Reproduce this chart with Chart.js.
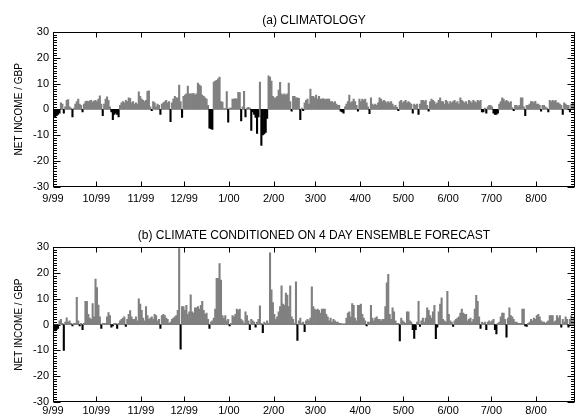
<!DOCTYPE html>
<html>
<head>
<meta charset="utf-8">
<script src="https://cdn.jsdelivr.net/npm/chart.js@4.4.1/dist/chart.umd.min.js"></script>
<style>
  html, body { margin: 0; padding: 0; background: #fff; }
  #wrap { position: relative; width: 578px; height: 418px; }
  canvas { position: absolute; left: 0; }
</style>
</head>
<body>
<div id="wrap">
  <canvas id="chartA" width="578" height="209" style="top:0"></canvas>
  <canvas id="chartB" width="578" height="209" style="top:209px"></canvas>
</div>
<script>
// day offsets (from 1 Sep 1999) where each month starts, and their labels
const monthDays = [0, 30, 61, 91, 122, 153, 182, 213, 243, 274, 304, 335];
const monthLabels = ["9/99", "10/99", "11/99", "12/99", "1/00", "2/00", "3/00", "4/00", "5/00", "6/00", "7/00", "8/00"];
const yTicks = [-30, -20, -10, 0, 10, 20, 30];

// (a) climatology - daily net income, GBP
const climatology = [
  -2.5, -3, -2.5, -2, -1.5, 2.5, 2, -1.5, 1, 3.5,
  3.8, 1, 0.5, -3, 0.5, 2, 3, 4, 2, 1.5,
  -1, 2, 3, 3.2, 3, 3.3, 3.5, 2.8, 3.2, 3.5,
  3, 4, 5.2, 2, -2.5, 2, 4, 4.8, 3.5, 1,
  -1, -4, -2, -1.5, -2, -3, 1.5, 2.5, 3, 2.5,
  3.5, 3, 4.5, 4.3, 2.5, 3, 2, 2.5, 2, 6.8,
  5, 4, 3.5, 3, 3.5, 7, 7.2, 1, -0.5, 3,
  2.5, 1, 2, 1.5, -2, 2, 2.5, 3, 3.5, 2.5,
  3, -4.8, 2.5, 4, 5, 4.5, 4.5, 9.4, 3, -3.2,
  5, 5.5, 6, 9, 6, 6, 6, 6.2, 5.5, 6,
  10.2, 9.5, 9, 5.5, 5, 4.5, 4, 1.5, -7.3, -7.5,
  -7.8, 10.6, 11, 11.3, 11.8, 12.5, 3, 2.8, 0.3, 0.3,
  6.9, -5, 0.5, 0.5, 4, 4, 4.2, 4, 6.6, 6.5,
  -4.5, 1, 7, -3, 0.5, 0.8, 0.5, -8.2, -1, -2,
  -3.2, -9.4, -3, 10.6, -14, -10, -9.6, -9, -3.5, 13,
  12.5, 11, 5, 4.5, 4.5, 5, 7.5, 10.5, 6, 5.5,
  6, 5.5, 6, 10.2, 3, -0.7, 5, 5, 4.5, 4.5,
  4.3, -4, 0.5, -0.5, 2.5, 3.5, 4, 2, 7.9, 5,
  5, 4.5, 5.5, 4, 5, 4, 4, 4.2, 3.8, 4,
  4, 4, 3, 3, 2.5, 3, 2, 1.5, 1.5, -0.7,
  -1, -1.5, 1, 2, 3, 5.5, 2.5, 3, 4, 3,
  1.5, -0.7, 4, 3, 4, 3.5, 4, 2.5, 1, -1.7,
  4.5, 2, 1.5, 2, 1.5, 2.5, 4.5, 4, 3, 3.5,
  3, 2.5, 3, 2.5, 3, 2, 1, 1.5, 0.8, -0.5,
  3, 3.5, 2.5, 3, 3.5, 2.5, 3, 2.5, 2, -1.5,
  2, 1.5, 2, -2, 2, 3.5, 3.5, 3, 3.5, 1.5,
  -0.7, 3, 4, 3.5, 3, 2, 2.5, 3.5, 4.5, 3,
  3, 2, 3.5, 3, 2, 3, 2.5, 3, 3.5, 2.5,
  3, 2, 4.5, 3.5, 3, 2.5, 3, 2, 3.5, 3,
  2.5, 3.5, 3, 2.5, 3.5, 3, 3.5, -1, -1, 0.5,
  -1.5, 1, 1.5, 1.5, 1, -1.5, -2, -2, -1.5, 2,
  3, 4.5, 4, 3, 3.5, 3, 2.5, 3, 0.7, -0.5,
  1.5, 1.5, 1, 1.5, 4.5, 4.5, 1, -2.5, 1.5, 1.5,
  2, 3, 3, 2.5, 3.1, 2, 2, 1.5, -0.7, 1.5,
  1.5, 1, 0.5, -1, 3.5, 3, 3.5, 3, 3.5, 2.5,
  2.5, 2, 1.5, -2, 2.5, 2, 1.5, 1.5, -1, 2,
  2.5, 2.5
];

// (b) climate conditioned on 4 day ensemble forecast
const conditioned = [
  -2, -2.5, -2, -1.5, 1.5, 2, 0.5, -10, 1, 2.6,
  1, 1.5, 0.5, -0.5, 0.5, 0.5, 10.6, 1.5, -0.5, 0.5,
  -2, 0.5, 9, 9, 4, 2.5, 2, 8.2, 3, 17.7,
  14.4, 7.6, 3, -1.5, 0.5, 0.5, 0.5, 3, 4.7, 3.5,
  -1, -0.5, 0.5, 0.5, -1.5, 0.5, 1.5, 2, 2.5, 3,
  -0.7, 2, 4, 5.4, 3, 2, 2, 3, 1.5, 10,
  8, 5.5, 2.5, 1.5, 7, 3.5, 2, 2.5, 3, 2,
  4, 3.5, 1.5, 2, -1.5, 3.5, 4, 3.5, 2.5, 2,
  0.5, 1, 2, 2.5, 3, 3.5, 5.5, 29.5, -9.5, 7,
  7, 5.5, 7.5, 4, 5, 11.6, 5, 4.5, 6.5, 6.5,
  7, 6, 7.5, 9, 5.5, 4, 4.5, 2, -1.5, 1,
  1.5, 2.5, 6, 18, 18, 23.7, 17.3, 3.5, 2.5, 3.5,
  1.5, 2, -0.5, 0.5, 3.5, 3, 4, 6, 5.5, 6,
  2, 1.5, 0.5, 5, 3.5, 1.5, -2, 2, 1.5, 1,
  -1, 1, 2, 7.25, 0.5, -3.1, 1, 0.5, 1.5, 0.5,
  27.9, 13.5, 8.5, 4, 2, 3, 5, 7, 15, 8,
  7.5, 12.2, 11.5, 7, 15, 3, 2, 0.5, 16.6, -6.1,
  1.5, 2.5, 0.5, 1, -2.75, 1.5, 2, 1.5, 2.5, 14.7,
  7, 6, 5.5, 6, 5.5, 4.5, 6, 6, 6, 4,
  3, 1.5, 2.5, 1, 2, 1.5, 1, 1, 0.5, 0.5,
  0.3, 0.3, 0.3, 2.5, 4.5, 5, 3, 8.2, 7.5, 2.5,
  1.5, 7.5, 7.5, 8, 4, 2.5, 1.5, -0.5, 1, 1,
  7.5, 2.5, 1.5, 2.5, 3, 2, 2, 1.5, 2, 2,
  7, 16.2, 19.5, 4, 2, 6.5, 5, 1.5, 0.5, 0.5,
  -6.3, 2.5, 1.5, 1, 0.5, 5, 5, 1.5, 1, -2,
  -5.4, -2, 1, 9, -0.7, 1.5, 2.5, 1, 2.5, 6.5,
  5.5, 3.5, 2.5, 5, 7.5, -5.5, -1, 5, 8, 10.4,
  2, 1.5, 1, 12.9, 4, 1.5, 1, -0.7, 1.5, 2,
  2.5, 3, 4.5, 6, 4.5, 4, 4, 1.5, 2, 2.5,
  1, 2, 6, 11.4, 9, 3, -1.5, 1, 0.5, 1,
  -2, 1, 1.5, 1, 1.5, 2, -2, -3.6, 0.5, 1,
  3, 4.5, 4.5, 2, -4.9, 2.5, 6.5, 3.5, 3, 2,
  1, 1, 0.5, 0.5, 0.5, 6, 6, -0.5, -0.7, 0.5,
  1, 2, 1.5, 2.5, 2, 3.5, 4, 3, 1.5, 1,
  1, 0.5, 1, 1.5, 3.5, 3.5, 3.5, 1, 1.5, 3.5,
  2.5, 3.5, -1, 2, 1, 3, 2, -1, 2, 3.5,
  1.5, 2.5
];

const FONT = "'Liberation Sans', Arial, sans-serif";

// box round the plot plus the inward IDL-style ticks
const frameTicks = {
  id: "frameTicks",
  afterDraw(chart) {
    const { ctx, chartArea: a, scales } = chart;
    const x = scales.x, y = scales.y;
    const L = Math.round(a.left) + 0.5, R = Math.round(a.right) - 0.5;
    const T = Math.round(a.top) + 0.5, B = Math.round(a.bottom) - 0.5;
    ctx.save();
    ctx.strokeStyle = "#000";
    ctx.lineWidth = 1;
    ctx.beginPath();
    for (let v = -30; v <= 30; v++) {
      const py = Math.round(y.getPixelForValue(v)) + 0.5;
      const len = v % 10 === 0 ? 7 : 3.5;
      ctx.moveTo(L, py); ctx.lineTo(L + len, py);
      ctx.moveTo(R, py); ctx.lineTo(R - len, py);
    }
    monthDays.forEach((d) => {
      const px = Math.round(x.getPixelForValue(d)) + 0.5;
      ctx.moveTo(px, B); ctx.lineTo(px, B - 5);
      ctx.moveTo(px, T); ctx.lineTo(px, T + 5);
    });
    ctx.stroke();
    ctx.strokeRect(L, T, R - L, B - T);
    ctx.restore();
  }
};

function makePanel(id, title, values, g) {
  const ctx = document.getElementById(id).getContext("2d");
  return new Chart(ctx, {
    type: "bar",
    data: {
      datasets: [{
        data: values.map((v, i) => ({ x: i + 0.5, y: v })),
        backgroundColor: (c) => (c.raw && c.raw.y < 0 ? "#000000" : "#808080"),
        borderWidth: 0,
        barPercentage: 1,
        categoryPercentage: 1
      }]
    },
    options: {
      responsive: false,
      animation: false,
      devicePixelRatio: 1,
      events: [],
      layout: { padding: { left: 0, right: 3, top: 0, bottom: 0 } },
      plugins: {
        legend: { display: false },
        tooltip: { enabled: false },
        title: {
          display: true,
          text: title,
          color: "#000",
          fullSize: false,
          font: { family: FONT, size: 12, weight: "normal" },
          padding: { top: g.titleTop, bottom: g.titleBottom }
        }
      },
      scales: {
        x: {
          type: "linear",
          min: 0,
          max: 362,
          offset: false,
          grid: { display: false, drawTicks: false },
          border: { display: false },
          afterBuildTicks: (s) => { s.ticks = monthDays.map((v) => ({ value: v })); },
          afterFit: (s) => { s.height = g.xHeight; },
          ticks: {
            autoSkip: false,
            maxRotation: 0,
            minRotation: 0,
            padding: g.xPad,
            color: "#000",
            font: { family: FONT, size: 11 },
            callback: (v) => monthLabels[monthDays.indexOf(v)]
          }
        },
        y: {
          min: -30,
          max: 30,
          grid: { display: false, drawTicks: false },
          border: { display: false },
          afterBuildTicks: (s) => { s.ticks = yTicks.map((v) => ({ value: v })); },
          afterFit: (s) => { s.width = 53; },
          ticks: {
            padding: 4,
            color: "#000",
            font: { family: FONT, size: 11 }
          },
          title: {
            display: true,
            text: "NET INCOME / GBP",
            color: "#000",
            font: { family: FONT, size: 10 },
            padding: { top: 13, bottom: 0 }
          }
        }
      }
    },
    plugins: [frameTicks]
  });
}

makePanel("chartA", "(a) CLIMATOLOGY", climatology,
  { titleTop: 13.1, titleBottom: 4.6, xHeight: 22.5, xPad: 5.9 });
makePanel("chartB", "(b) CLIMATE CONDITIONED ON 4 DAY ENSEMBLE FORECAST", conditioned,
  { titleTop: 19.1, titleBottom: 4.8, xHeight: 16.1, xPad: 2.5 });
</script>
</body>
</html>
